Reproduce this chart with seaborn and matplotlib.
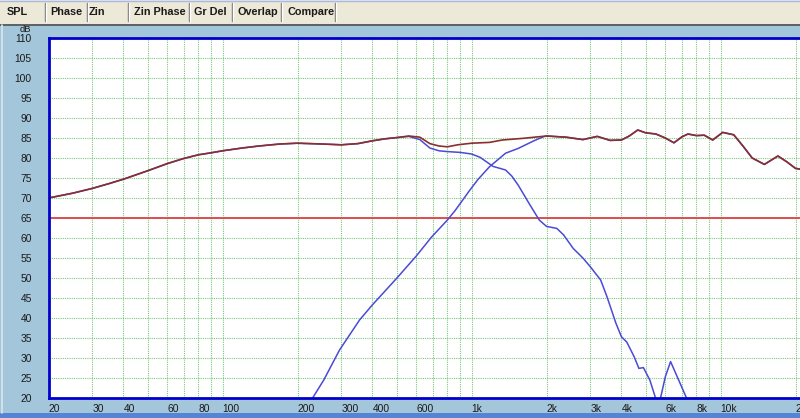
import numpy as np
import pandas as pd
import matplotlib
matplotlib.use('Agg')
import matplotlib.pyplot as plt
from matplotlib.patches import Rectangle
from matplotlib.lines import Line2D
import seaborn as sns

sns.set_style('white')
plt.rcParams['font.family'] = ['Liberation Sans', 'DejaVu Sans']

# --- data (frequency in Hz, level in dB) ---
total_freq = [20, 25, 30, 35, 40, 50, 60, 70, 80, 90, 100, 120, 140, 170, 200, 250, 300, 350,
              400, 450, 500, 560, 620, 680, 740, 800, 880, 1000, 1180, 1330, 1600, 2000, 2400,
              2800, 3200, 3600, 4000, 4300, 4650, 5000, 5500, 6000, 6500, 7000, 7400, 8000,
              8600, 9300, 10200, 11300, 12300, 13400, 15000, 17000, 18500, 20000, 21000]
total_db = [70.0, 71.2, 72.4, 73.6, 74.7, 76.8, 78.6, 79.9, 80.8, 81.3, 81.8, 82.5, 83.0, 83.5,
            83.7, 83.5, 83.3, 83.6, 84.3, 84.8, 85.1, 85.5, 85.2, 83.6, 83.0, 82.8, 83.3, 83.7,
            83.9, 84.5, 84.9, 85.5, 85.2, 84.6, 85.4, 84.4, 84.5, 85.5, 87.0, 86.3, 86.0, 85.0,
            83.8, 85.3, 86.0, 85.6, 85.7, 84.5, 86.4, 85.8, 83.0, 80.0, 78.4, 80.5, 79.0, 77.4, 77.2]

woofer_freq = [20, 25, 30, 35, 40, 50, 60, 70, 80, 90, 100, 120, 140, 170, 200, 250, 300, 350,
               400, 450, 500, 560, 620, 680, 740, 800, 900, 1000, 1080, 1220, 1370, 1450, 1540,
               1700, 1870, 2000, 2200, 2340, 2560, 2800, 3000, 3300, 3500, 3800, 4000, 4200,
               4500, 4700, 4900, 5200, 5450, 5600, 6000, 6300, 6700, 7300, 7600, 8000]
woofer_db = [70.0, 71.2, 72.4, 73.6, 74.7, 76.8, 78.6, 79.9, 80.8, 81.3, 81.8, 82.5, 83.0, 83.5,
             83.7, 83.5, 83.3, 83.6, 84.3, 84.8, 85.1, 85.4, 84.6, 82.5, 81.8, 81.6, 81.4, 81.0,
             80.2, 77.9, 77.0, 75.5, 73.2, 68.7, 64.5, 62.9, 62.4, 60.8, 57.4, 55.0, 52.8, 49.5,
             45.3, 38.7, 35.3, 34.0, 30.3, 27.4, 27.6, 24.5, 20.5, 17.0, 25.3, 29.1, 25.3, 20.0,
             16.0, 12.0]

tweeter_freq = [180, 230, 255, 295, 355, 400, 500, 600, 690, 800, 860, 900, 980, 1060, 1180,
                1370, 1540, 1780, 1940, 2000, 2400, 2800, 3200, 3600, 4000, 4300, 4650, 5000,
                5500, 6000, 6500, 7000, 7400, 8000, 8600, 9300, 10200, 11300, 12300, 13400,
                15000, 17000, 18500, 20000, 21000]
tweeter_db = [10.0, 20.0, 24.5, 32.0, 39.5, 43.3, 49.9, 55.5, 60.2, 64.5, 66.9, 68.6, 71.8, 74.6,
              77.8, 81.2, 82.4, 84.3, 85.3, 85.5, 85.2, 84.6, 85.4, 84.4, 84.5, 85.5, 87.0, 86.3,
              86.0, 85.0, 83.8, 85.3, 86.0, 85.6, 85.7, 84.5, 86.4, 85.8, 83.0, 80.0, 78.4, 80.5,
              79.0, 77.4, 77.2]

ref_level = 65

grid_freqs = [20, 30, 40, 50, 60, 70, 80, 90, 100, 200, 300, 400, 500, 600, 700, 800, 900,
              1000, 2000, 3000, 4000, 5000, 6000, 7000, 8000, 9000, 10000, 20000]
freq_labels = {20: '20', 30: '30', 40: '40', 60: '60', 80: '80', 100: '100', 200: '200',
               300: '300', 400: '400', 600: '600', 1000: '1k', 2000: '2k', 3000: '3k',
               4000: '4k', 6000: '6k', 8000: '8k', 10000: '10k', 20000: '20k'}
tabs = ['SPL', 'Phase', 'Zin', 'Zin Phase', 'Gr Del', 'Overlap', 'Compare']

W, H = 800, 418
panel_col = '#A3C6DB'
fig = plt.figure(figsize=(W / 100, H / 100), dpi=100, facecolor=panel_col)

# tab strip
fig.patches.append(Rectangle((0, 1 - 24 / H), 1, 24 / H, transform=fig.transFigure,
                             facecolor='#ECE9D8', edgecolor='none', zorder=0))
fig.lines.append(Line2D([0, 1], [1 - 24.5 / H] * 2, transform=fig.transFigure,
                        color='#505050', lw=1.2))
fig.lines.append(Line2D([0, 1], [1 - 0.5 / H] * 2, transform=fig.transFigure,
                        color='#A8B8E8', lw=1))
tab_x = [7, 50, 89, 134, 194, 237, 287]
sep_x = [45, 86.5, 128, 189, 231.5, 281, 334.5]
for t, x in zip(tabs, tab_x):
    fig.text(x / W, 1 - 12 / H, t, fontsize=7.8, fontweight='bold', color='#1A1A1A',
             ha='left', va='center')
for x in sep_x:
    fig.lines.append(Line2D([x / W] * 2, [1 - 21 / H, 1 - 3 / H], transform=fig.transFigure,
                            color='#707070', lw=1))
    fig.lines.append(Line2D([(x + 1) / W] * 2, [1 - 21 / H, 1 - 3 / H], transform=fig.transFigure,
                            color='#FFFFFF', lw=1))

# bottom window border
fig.patches.append(Rectangle((0, 0), 1, 5 / H, transform=fig.transFigure,
                             facecolor='#5584D6', edgecolor='none', zorder=0))
fig.lines.append(Line2D([2 / W] * 2, [5 / H, 1 - 25 / H], transform=fig.transFigure,
                        color='#D8E6EE', lw=1.2))

# plot area: 20 Hz at x=48.5, 110 dB at y=38, 20 dB at y=398
x0 = 48.5
px_per_dec = 249.0
f_right = 20 * 10 ** ((W - x0) / px_per_dec)
ax = fig.add_axes([x0 / W, (H - 398) / H, (W - x0) / W, 360 / H])
ax.set_facecolor('white')
ax.set_xscale('log')
ax.set_xlim(20, f_right)
ax.set_ylim(20, 110)

df_total = pd.DataFrame({'freq': total_freq, 'db': total_db})
df_woofer = pd.DataFrame({'freq': woofer_freq, 'db': woofer_db})
df_tweeter = pd.DataFrame({'freq': tweeter_freq, 'db': tweeter_db})

sns.lineplot(data=df_woofer, x='freq', y='db', ax=ax, color='#4A4AD4', lw=1.1, estimator=None)
sns.lineplot(data=df_tweeter, x='freq', y='db', ax=ax, color='#4A4AD4', lw=1.1, estimator=None)
sns.lineplot(data=df_total, x='freq', y='db', ax=ax, color='#8A2E2E', lw=1.2, estimator=None)
ax.axhline(ref_level, color='#D85050', lw=1.4, zorder=1.5)

ax.set_xticks(grid_freqs)
ax.set_xticklabels([freq_labels.get(f, '') for f in grid_freqs])
ax.xaxis.set_minor_locator(matplotlib.ticker.NullLocator())
ax.set_yticks(np.arange(20, 111, 5))
for lab in ax.get_xticklabels():
    lab.set_horizontalalignment('left')
ax.tick_params(axis='both', length=0, labelsize=7.4, labelcolor='#1A1A1A')
ax.tick_params(axis='y', pad=12)
ax.tick_params(axis='x', pad=4)
ax.grid(True, color='#5CB85C', ls=(0, (1, 1)), lw=0.8, alpha=0.8)
ax.set_axisbelow(True)
ax.set_xlabel('')
ax.set_ylabel('')

for side in ['left', 'top', 'bottom']:
    ax.spines[side].set_color('#0000CC')
    ax.spines[side].set_linewidth(2)
    ax.spines[side].set_zorder(3)
ax.spines['right'].set_visible(False)

fig.text(25 / W, 1 - 30 / H, 'dB', fontsize=6.8, color='#1A1A1A', ha='center', va='center')

fig.savefig('out.png', dpi=100, facecolor=panel_col)
